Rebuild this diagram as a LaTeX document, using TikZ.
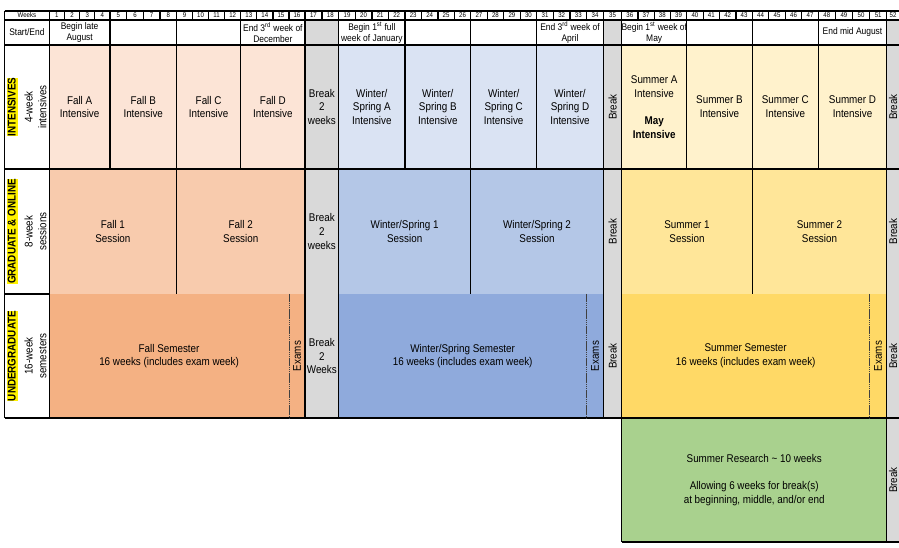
\documentclass[tikz,border=0pt]{standalone}
\usepackage{fontspec}
\setmainfont[FakeStretch=0.88]{Liberation Sans}
\usetikzlibrary{calc}
\definecolor{fall1}{HTML}{FCE4D6}
\definecolor{fall2}{HTML}{F8CBAD}
\definecolor{fall3}{HTML}{F4B183}
\definecolor{win1}{HTML}{DAE3F3}
\definecolor{win2}{HTML}{B4C7E7}
\definecolor{win3}{HTML}{8FAADC}
\definecolor{sum1}{HTML}{FFF2CC}
\definecolor{sum2}{HTML}{FFE699}
\definecolor{sum3}{HTML}{FFD966}
\definecolor{research}{HTML}{A9D18E}
\definecolor{brk}{HTML}{D9D9D9}
\newcommand\hilite[1]{{\setlength\fboxsep{0pt}\colorbox{yellow}{\rule[-1.6pt]{0pt}{7.8pt}\bfseries #1}}}
\begin{document}
\begin{tikzpicture}[x=.75pt,y=-.75pt,
	cell/.style={align=center,inner sep=0pt,font=\fontsize{8.4}{10.3}\selectfont},
	side/.style={cell,rotate=90},
	note/.style={align=center,inner sep=0pt,font=\fontsize{7.2}{8}\selectfont},
	wk/.style={inner sep=0pt,font=\fontsize{5.2}{6}\selectfont},
	rule/.style={line width=.9pt},
	exam/.style={line width=.6pt,black!75,dash pattern=on 1.2pt off .4pt}]
	\useasboundingbox (0,0) rectangle (899,548);
	\clip (0,0) rectangle (899,548);
	\foreach \x [count=\i from 0] in {49.3,64.5,79.6,94.8,110,126.6,143.3,159.9,176.5,192.6,208.6,224.7,240.7,256.8,272.9,288.9,305,321.9,338.7,355.3,371.9,388.4,405,421.4,437.9,454.3,470.7,487.2,503.7,520.2,536.7,553.4,570,586.7,603.3,621.7,638,654.2,670.5,686.7,703.1,719.5,735.9,752.3,768.8,785.3,801.8,818.3,835.4,852.5,869.6,886.7,903}
		\coordinate (w\i) at (\x,0);
	\path
	(4.5,0) coordinate (L)
	(893,0) coordinate (E)
	(0,11) coordinate (r0)
	(0,20) coordinate (r1)
	(0,45) coordinate (r2)
	(0,169) coordinate (r3)
	(0,294) coordinate (r4)
	(0,418) coordinate (r5)
	(0,542) coordinate (r6)
	;
	% fills
	\foreach \a/\b/\c in {0/16/fall,18/34/win,35/51/sum} {
		\fill[\c1] (w\a|-r2) rectangle (w\b|-r3);
		\fill[\c2] (w\a|-r3) rectangle (w\b|-r4);
		\fill[\c3] (w\a|-r4) rectangle (w\b|-r5);
	}
	\foreach \a/\b/\y in {16/18/5,34/35/5,51/52/6} \fill[brk] (w\a|-r1) rectangle (w\b|-r\y);
	\fill[research] (w35|-r5) rectangle (w51|-r6);
	% rules
	\draw[rule]
	(L|-r0) -- (w52|-r0) (L|-r1) -- (w52|-r1) (L|-r2) -- (w52|-r2) (L|-r3) -- (w52|-r3)
	(L|-r4) -- (w0|-r4) (L|-r5) -- (w52|-r5) (w35|-r6) -- (w52|-r6)
	(L|-r0) -- (L|-r5)
	;
	\foreach \i in {0,...,52} \draw[rule] (w\i|-r0) -- (w\i|-r1);
	\foreach \i in {0,4,8,12,16,18,22,26,30,34,35,39,43,47,51} \draw[rule] (w\i|-r1) -- (w\i|-r3);
	\foreach \i in {0,8,16,18,26,34,35,43,51} \draw[rule] (w\i|-r3) -- (w\i|-r4);
	\foreach \i in {0,16,18,34,35,51} \draw[rule] (w\i|-r4) -- (w\i|-r5);
	\foreach \i in {35,51} \draw[rule] (w\i|-r5) -- (w\i|-r6);
	\foreach \i in {15,33,50} \draw[exam] (w\i|-r4) -- (w\i|-r5);
	% header
	\node[wk] (weeks) at ($(L|-r0)!.5!(w0|-r1)$) {Weeks};
	\foreach \i [evaluate=\i as \j using int(\i-1)] in {1,...,51}
		\node[wk] (n\i) at ($(w\j|-r0)!.5!(w\i|-r1)$) {\i};
	\node[wk] (n52) at ($(E|-r0)!.5!(E|-r1)$) {52};
	\node[note] (startend) at ($(L|-r1)!.5!(w0|-r2)$) {Start/End};
	\foreach \a/\b/\t in {0/4/{Begin late\\August},12/16/{End 3\textsuperscript{rd} week of\\December},18/22/{Begin 1\textsuperscript{st} full\\week of January},30/34/{End 3\textsuperscript{rd} week of\\April},35/39/{Begin 1\textsuperscript{st} week of\\May},47/51/{End mid August}}
		\node[note] (se\a) at ($(w\a|-r1)!.5!(w\b|-r2)$) {\t};
	% row labels
	\node[side] (intlabel) at ($(L|-r2)!.5!(w0|-r3)$) {\hilite{INTENSIVES}\\[2.5pt]4-week\\intensives};
	\node[side] (gradlabel) at ($(L|-r3)!.5!(w0|-r4)$) {\hilite{GRADUATE \& ONLINE}\\[2.5pt]8-week\\sessions};
	\node[side] (ugradlabel) at ($(L|-r4)!.5!(w0|-r5)$) {\hilite{UNDERGRADUATE}\\[2.5pt]16-week\\semesters};
	% intensives
	\foreach \a/\b/\t in {0/4/{Fall A\\Intensive},4/8/{Fall B\\Intensive},8/12/{Fall C\\Intensive},12/16/{Fall D\\Intensive},18/22/{Winter/\\Spring A\\Intensive},22/26/{Winter/\\Spring B\\Intensive},26/30/{Winter/\\Spring C\\Intensive},30/34/{Winter/\\Spring D\\Intensive},35/39/{Summer A\\Intensive\\[10.3pt]\textbf{May}\\\textbf{Intensive}},39/43/{Summer B\\Intensive},43/47/{Summer C\\Intensive},47/51/{Summer D\\Intensive}}
		\node[cell] (int\a) at ($(w\a|-r2)!.5!(w\b|-r3)$) {\t};
	% sessions
	\foreach \a/\b/\t in {0/8/{Fall 1\\Session},8/16/{Fall 2\\Session},18/26/{Winter/Spring 1\\Session},26/34/{Winter/Spring 2\\Session},35/43/{Summer 1\\Session},43/51/{Summer 2\\Session}}
		\node[cell] (ses\a) at ($(w\a|-r3)!.5!(w\b|-r4)$) {\t};
	% semesters
	\foreach \a/\b/\t in {0/15/{Fall},18/33/{Winter/Spring},35/50/{Summer}}
		\node[cell] (sem\a) at ($(w\a|-r4)!.5!(w\b|-r5)$) {\t{} Semester\\16 weeks (includes exam week)};
	\foreach \a/\b in {15/16,33/34,50/51}
		\node[side] (exam\a) at ($(w\a|-r4)!.5!(w\b|-r5)$) {Exams};
	\node[cell] (rsch) at ($(w35|-r5)!.5!(w51|-r6)$) {Summer Research \textasciitilde{} 10 weeks\\[10.3pt]Allowing 6 weeks for break(s)\\at beginning, middle, and/or end};
	% breaks
	\foreach \r/\s/\t in {2/3/weeks,3/4/weeks,4/5/Weeks}
		\node[cell] (brk\r) at ($(w16|-r\r)!.5!(w18|-r\s)$) {Break\\2\\\t};
	\foreach \r/\s in {2/3,3/4,4/5}
		\node[side] (brkb\r) at ($(w34|-r\r)!.5!(w35|-r\s)$) {Break};
	\foreach \r/\s in {2/3,3/4,4/5,5/6}
		\node[side] (brkc\r) at ($(E|-r\r)!.5!(E|-r\s)$) {Break};
\end{tikzpicture}
\end{document}
